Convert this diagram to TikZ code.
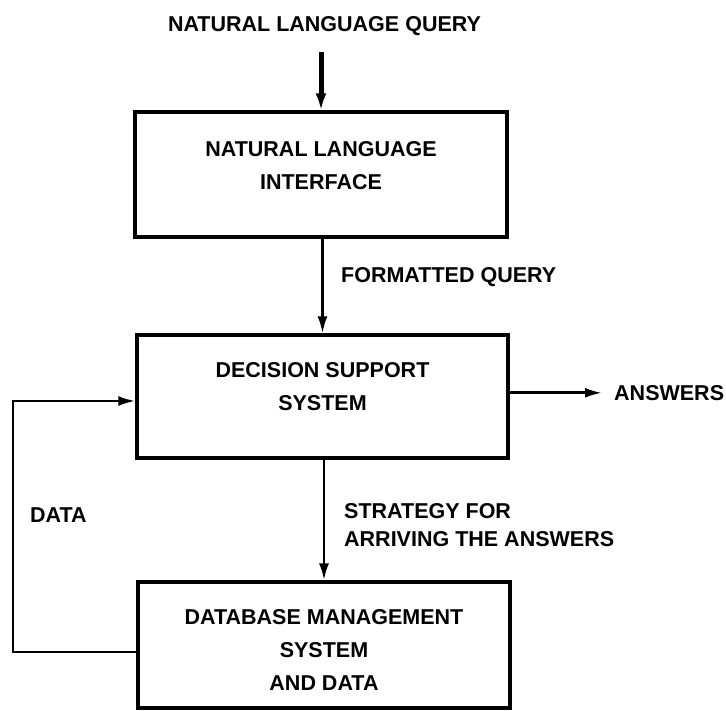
\documentclass[tikz,border=0pt]{standalone}
\usepackage{fontspec}
\setmainfont{Liberation Sans}
\usetikzlibrary{arrows.meta}
\newcommand\bxtxt[2]{\raisebox{#1}[0pt][0pt]{\begin{tabular}[b]{@{}c@{}}#2\end{tabular}}}
\begin{document}
\begin{tikzpicture}[x=1pt,y=-1pt,
  lbl/.style={font=\fontsize{21.5}{33}\selectfont\bfseries, inner sep=0pt},
  lbltwo/.style={font=\fontsize{21.5}{28}\selectfont\bfseries, inner sep=0pt},
  blk/.style={draw, line width=3.2pt, inner sep=0pt, font=\fontsize{21.5}{33}\selectfont\bfseries},
  arr/.style={line width=2.6pt, -{Latex[length=17pt,width=10pt]}},
  bigarr/.style={line width=5pt, -{Latex[length=17pt,width=11pt]}}]
\useasboundingbox (0,0) rectangle (726,711);
% labels
\node[lbl, anchor=base] (q) at (324.5,31.7) {NATURAL LANGUAGE QUERY};
\node[lbl, anchor=base west] (fq) at (341,282.7) {FORMATTED QUERY};
\node[lbl, anchor=base west] (ans) at (614,400.2) {ANSWERS};
\node[lbl, anchor=base west] (data) at (30,522.7) {DATA};
\node[lbltwo, anchor=base west] (strat) at (344,546.7) {\begin{tabular}[b]{@{}l@{}}STRATEGY FOR\\ARRIVING THE ANSWERS\end{tabular}};
% boxes
\node[blk, minimum width=372pt, minimum height=125pt] (b1) at (321,174.5)
  {\bxtxt{-15.2pt}{NATURAL LANGUAGE\\INTERFACE}};
\node[blk, minimum width=371pt, minimum height=123pt] (b2) at (322.5,396.5)
  {\bxtxt{-14.2pt}{DECISION SUPPORT\\SYSTEM}};
\node[blk, minimum width=372pt, minimum height=126pt] (b3) at (324,645)
  {\bxtxt{-45.7pt}{DATABASE MANAGEMENT\\SYSTEM\\AND DATA}};
% loop corners
\coordinate (lb) at (13,652);
\coordinate (lt) at (13,401);
% connectors
\draw[bigarr, shorten <=16pt] (b1.north |- q.south) -- (b1.north);
\draw[arr] (b2.north |- b1.south) -- (b2.north);
\draw[arr] (b3.north |- b2.south) -- (b3.north);
\draw[arr, shorten >=12pt] (ans.west -| b2.east) -- (ans.west);
\draw[arr] (lb -| b3.west) -- (lb) -- (lt) -- (lt -| b2.west);
\end{tikzpicture}
\end{document}
